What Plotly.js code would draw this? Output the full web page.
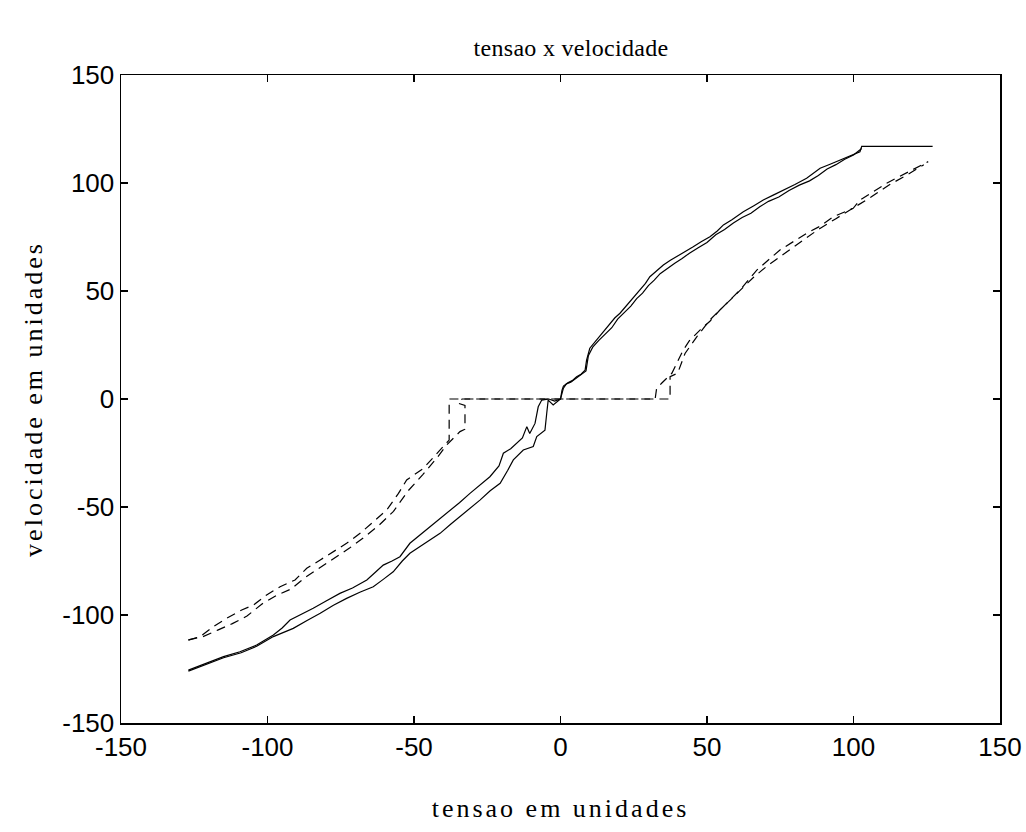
<!DOCTYPE html>
<html>
<head>
<meta charset="utf-8">
<script src="https://cdn.plot.ly/plotly-3.0.1.min.js"></script>
<style>
  html, body { margin: 0; padding: 0; background: #ffffff; }
  #chart { width: 1026px; height: 832px; }
  .g-gtitle text { letter-spacing: 0.3px; }
  .g-xtitle text, .g-ytitle text { letter-spacing: 3px; }
</style>
</head>
<body>
<div id="chart"></div>
<script>
// tension (x) vs velocity (y), solid: measured branches, dashed: branches with dead zone
const solidUpX = [-127, -121, -115, -109.4, -103.7, -98, -95, -92.3, -88, -84.4, -80, -75.3, -71, -66.1, -63, -60.5, -57.5, -54.8, -51.4, -48, -44.5, -41, -37.7, -34.5, -30.9, -27.5, -24.1, -21, -19.5, -17, -15, -13, -11.5, -10.5, -8.7, -7.6, -6.4, -4, -2, 0, 0.5, 1, 2.5, 4, 5.5, 7, 8.4, 8.9, 10, 11.5, 13.5, 15, 16.9, 18.5, 20.3, 22, 23.7, 25.5, 27.1, 29, 30.5, 33, 35.1, 37.5, 39.7, 42.5, 45.3, 48, 51, 53.5, 55.6, 58.5, 62.4, 66, 69.2, 72.6, 76, 80, 84, 86.5, 88.6, 92, 95.4, 99, 102.2, 102.8, 127];
const solidUpY = [-125.5, -122.4, -119.3, -117, -113.9, -109.3, -106, -102.3, -99.5, -96.9, -93.5, -90, -87.5, -83.8, -80, -76.9, -75, -73, -66.8, -63, -59.1, -55.5, -51.4, -48, -43.7, -40, -36, -31, -25.1, -23, -20.5, -18, -12.8, -16, -11.3, -3.6, -0.5, 0, -1, 0, 4, 6, 7.5, 8.5, 10.3, 11.5, 13.4, 18, 23.5, 26, 28.8, 31.5, 35, 37.5, 39.7, 42.5, 45, 48, 50.5, 53.5, 56.6, 59.5, 62, 64.2, 65.9, 68.3, 70.5, 72.8, 75.1, 77.8, 80.6, 83, 86.7, 89.5, 92.1, 94.4, 96.6, 99.3, 102.2, 104.5, 106.8, 108.7, 110.6, 112.6, 114.5, 117, 117];

const solidDownX = [-127, -120.8, -115, -109, -103.7, -98, -94.5, -91.2, -86.5, -82, -77.5, -73, -68.5, -63.9, -60.5, -57.1, -54, -51.4, -46, -41.1, -37.5, -34.3, -31, -27.5, -24, -20.6, -18, -16.1, -12.7, -9.3, -8.1, -5.3, -4.7, -4.2, -2.5, 0, 1, 2, 3.5, 5.5, 7.5, 8.7, 9.5, 11, 13, 15.5, 17.5, 19.5, 21.5, 24, 26, 28, 30, 32, 34, 36.5, 39, 41.5, 44, 47, 50, 53, 56, 59, 62, 65, 68, 71, 74.5, 78, 81.5, 85, 88, 91, 94, 97, 100, 102.8];
const solidDownY = [-126, -122.8, -119.8, -117.5, -114.5, -110, -108, -106.2, -102.5, -99.2, -95.5, -92.3, -89.5, -86.9, -83.5, -80, -75, -71.4, -66.5, -62.2, -58, -54.5, -51, -46.8, -42.5, -39, -33, -28.2, -23.6, -22, -17.4, -14.4, -6.6, -0.5, -2.8, 0, 5, 7, 7.8, 9.8, 11.5, 13, 20, 24, 27, 30.5, 33, 37, 39.5, 43, 46.5, 49, 52.5, 55, 58, 60.5, 62.8, 65, 67.5, 70, 72.5, 76, 78.5, 81.5, 84, 86, 89, 91.5, 93.5, 96.5, 99, 101, 103.5, 106.5, 108.5, 111, 113, 116];

const dashAX = [-127, -123, -118.5, -113.9, -108.8, -104.8, -100.3, -95.7, -90.6, -86.6, -82, -77.5, -73, -68.4, -63.9, -59.3, -55.3, -52.5, -46.8, -41.1, -38, -38, 37.4, 37.4, 40, 42.5, 46.5, 51, 55.6, 61.3, 67, 74.9, 84, 88.6, 93.1, 99.9, 102.2, 107.9, 111.3, 120.4, 125.5];
const dashAY = [-111.6, -110, -105.4, -101.5, -97.7, -95.4, -90.7, -86.9, -83.8, -78.4, -74.5, -70.7, -66.8, -62.2, -56.8, -51.4, -43.7, -37.5, -32.1, -23.6, -19, 0, 0, 10.3, 12, 21.1, 28.8, 36.6, 42.7, 50.5, 59.7, 69, 76.7, 80, 84.4, 88.3, 92.1, 96.8, 99.9, 106.3, 109.9];

const dashBX = [-127, -122, -117, -112, -107, -102, -97, -92, -87, -82, -77, -72, -67, -62, -57, -52, -47, -42, -39, -36.5, -34.3, -32.6, -32.6, -35, -33.6, 32.3, 32.8, 34.5, 38, 41.9, 44, 47.6, 51, 54.4, 58, 62, 66, 70.9, 76, 82, 88, 94, 100, 106, 112, 118, 124];
const dashBY = [-111.5, -110, -107, -104, -100.5, -95, -91, -88, -82.5, -78, -73.5, -69, -64, -58.5, -52, -42.5, -35, -27, -21.5, -18, -15.1, -14, -3, -1.9, 0, 0, 4.9, 7.3, 11.9, 22.7, 27, 31.9, 36, 41.2, 46, 51.5, 56.5, 62, 67, 72.5, 78.5, 83.5, 88.5, 93.5, 99, 103.5, 108.5];

const xTicks = [-150, -100, -50, 0, 50, 100, 150];
const yTicks = [-150, -100, -50, 0, 50, 100, 150];

const titleText = 'tensao x velocidade';
const xTitleText = 'tensao em unidades';
const yTitleText = 'velocidade em unidades';

const solidLine = {color: '#000000', width: 1.2};
const dashLine = {color: '#000000', width: 1.2, dash: '9px,6px'};
const serifFont = 'Liberation Serif, Times New Roman, serif';

const traces = [
  {x: solidUpX, y: solidUpY, mode: 'lines', line: solidLine, type: 'scatter', hoverinfo: 'skip'},
  {x: solidDownX, y: solidDownY, mode: 'lines', line: solidLine, type: 'scatter', hoverinfo: 'skip'},
  {x: dashAX, y: dashAY, mode: 'lines', line: dashLine, type: 'scatter', hoverinfo: 'skip'},
  {x: dashBX, y: dashBY, mode: 'lines', line: dashLine, type: 'scatter', hoverinfo: 'skip'}
];

const axisCommon = {
  range: [-150, 150],
  showgrid: false,
  zeroline: false,
  showline: true,
  linecolor: '#000000',
  linewidth: 1.5,
  mirror: 'ticks',
  ticks: 'inside',
  ticklen: 7,
  tickwidth: 1.5,
  tickcolor: '#000000',
  tickfont: {family: 'Liberation Sans, Arial, sans-serif', size: 26, color: '#000000'},
  fixedrange: true
};

const layout = {
  width: 1026,
  height: 832,
  showlegend: false,
  paper_bgcolor: '#ffffff',
  plot_bgcolor: '#ffffff',
  margin: {l: 121, r: 26, t: 75, b: 109, pad: 0},
  title: {
    text: titleText,
    font: {family: serifFont, size: 24, color: '#000000'},
    x: 0.512, xref: 'paper', xanchor: 'center',
    y: 1 - 48 / 832, yref: 'container', yanchor: 'middle'
  },
  xaxis: Object.assign({}, axisCommon, {
    tickmode: 'array', tickvals: xTicks, ticktext: xTicks.map(String),
    title: {text: xTitleText, font: {family: serifFont, size: 26, color: '#000000'}, standoff: 38}
  }),
  yaxis: Object.assign({}, axisCommon, {
    tickmode: 'array', tickvals: yTicks, ticktext: yTicks.map(String),
    title: {text: yTitleText, font: {family: serifFont, size: 26, color: '#000000'}, standoff: 12}
  })
};

Plotly.newPlot('chart', traces, layout, {displayModeBar: false, staticPlot: true});
</script>
</body>
</html>
